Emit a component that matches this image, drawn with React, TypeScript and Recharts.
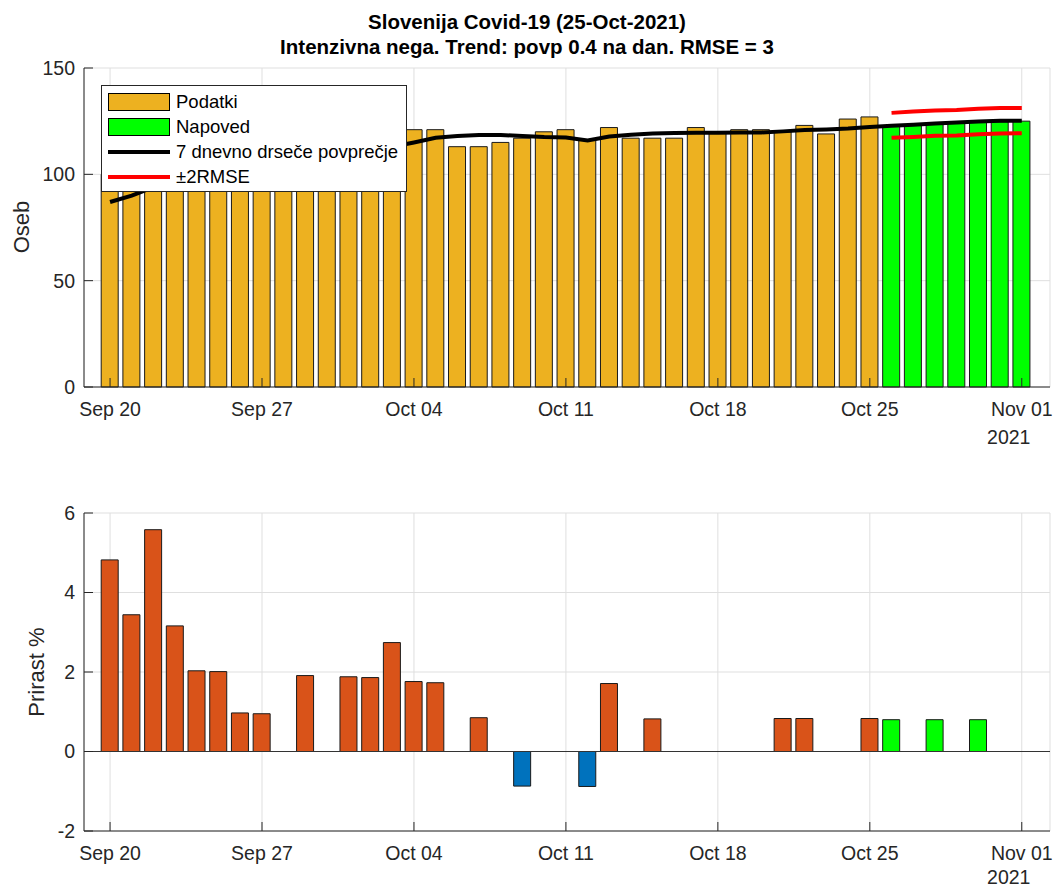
import React from 'react';
import {
    ComposedChart,
    Bar,
    Line,
    XAxis,
    YAxis,
    CartesianGrid,
    Cell,
    ReferenceLine,
} from 'recharts';

// dnevi od 20. sept. do 1. nov. 2021
const dates = [
    'Sep 20', 'Sep 21', 'Sep 22', 'Sep 23', 'Sep 24', 'Sep 25', 'Sep 26', 'Sep 27', 'Sep 28', 'Sep 29', 'Sep 30',
    'Oct 01', 'Oct 02', 'Oct 03', 'Oct 04', 'Oct 05', 'Oct 06', 'Oct 07', 'Oct 08', 'Oct 09', 'Oct 10',
    'Oct 11', 'Oct 12', 'Oct 13', 'Oct 14', 'Oct 15', 'Oct 16', 'Oct 17', 'Oct 18', 'Oct 19', 'Oct 20',
    'Oct 21', 'Oct 22', 'Oct 23', 'Oct 24', 'Oct 25', 'Oct 26', 'Oct 27', 'Oct 28', 'Oct 29', 'Oct 30',
    'Oct 31', 'Nov 01',
];

// Podatki (Sep 20 - Oct 25)
const podatki = [
    100, 101, 104, 103, 105, 104, 106, 108, 110, 112, 113, 115, 117, 118,
    121, 121, 113, 113, 115, 117, 120, 121, 116, 122, 117, 117, 117, 122,
    120, 121, 121, 120, 123, 119, 126, 127,
];

// Napoved (Oct 26 - Nov 01)
const napoved = [122.6, 123.1, 123.6, 124, 124.4, 124.7, 125];

// 7 dnevno drseče povprečje
const drsece = [
    87, 90, 94, 97.5, 100, 102, 103.3, 104.2, 104.8, 106, 106.8, 108.2, 110.3, 113,
    115, 117.2, 118, 118.5, 118.5, 118, 117.5, 117.3, 115.9, 117.8, 118.6, 119.2,
    119.4, 119.5, 119.6, 119.7, 119.7, 120.2, 120.9, 121.1, 121.5, 122.3,
    122.9, 123.3, 123.9, 124.4, 124.9, 125.2, 125.2,
];

// ±2RMSE (Oct 26 - Nov 01)
const rmseUpper = [128.9, 129.5, 130, 130.2, 130.8, 131.2, 131.2];
const rmseLower = [117.2, 117.6, 118.1, 118.3, 118.8, 119.2, 119.3];

// Prirast %
const prirast = [
    4.82, 3.44, 5.58, 3.16, 2.03, 2.01, 0.97, 0.95, 0, 1.91, 0,
    1.88, 1.86, 2.74, 1.76, 1.73, 0, 0.85, 0, -0.87, 0,
    0, -0.88, 1.71, 0, 0.82, 0, 0, 0, 0, 0,
    0.83, 0.83, 0, 0, 0.83, 0.8, 0, 0.8, 0, 0.8,
    0, 0,
];

const tickDays = [0, 7, 14, 21, 28, 35, 42];
const topTicks = [0, 50, 100, 150];
const bottomTicks = [-2, 0, 2, 4, 6];

const nData = podatki.length;

const chartData = dates.map((date, i) => ({
    i,
    date,
    value: i < nData ? podatki[i] : napoved[i - nData],
    ma: drsece[i],
    upper: i >= nData ? rmseUpper[i - nData] : null,
    lower: i >= nData ? rmseLower[i - nData] : null,
    prirast: prirast[i],
}));

const FONT = '"Liberation Sans", Arial, Helvetica, sans-serif';
const TEXT = '#262626';
const GRID = '#dfdfdf';

interface TickProps {
    x?: number;
    y?: number;
    payload?: { value: number };
    yearDy?: number;
}

const DateTick = ({ x = 0, y = 0, payload, yearDy = 57 }: TickProps) => {
    const idx = payload ? payload.value : 0;
    const last = idx === dates.length - 1;
    return (
        <g>
            <text x={x} y={y + 29} textAnchor="middle" fill={TEXT} fontSize={19.5} fontFamily={FONT}>
                {dates[idx]}
            </text>
            {last && (
                <text x={x - 13} y={y + yearDy} textAnchor="middle" fill={TEXT} fontSize={19.5} fontFamily={FONT}>
                    2021
                </text>
            )}
        </g>
    );
};

const xAxisProps = {
    dataKey: 'i',
    type: 'number' as const,
    domain: [-1.2, 43.3],
    allowDataOverflow: true,
    ticks: tickDays,
    interval: 0 as const,
    tickSize: -9,
    tickMargin: 9,
    stroke: TEXT,
};

const Legenda = () => (
    <div
        style={{
            position: 'absolute',
            left: 101,
            top: 85,
            width: 304,
            height: 105,
            background: '#fff',
            border: '1px solid #262626',
            fontFamily: FONT,
            fontSize: 18.5,
            color: '#000',
        }}
    >
        {[
            { label: 'Podatki', kind: 'box', color: '#EDB120' },
            { label: 'Napoved', kind: 'box', color: '#00FF00' },
            { label: '7 dnevno drseče povprečje', kind: 'line', color: '#000000' },
            { label: '±2RMSE', kind: 'line', color: '#FF0000' },
        ].map((item, k) => (
            <div
                key={item.label}
                style={{ position: 'absolute', left: 6, top: 4 + k * 25, height: 24, display: 'flex', alignItems: 'center' }}
            >
                {item.kind === 'box' ? (
                    <div style={{ width: 60, height: 16, background: item.color, border: '1px solid #000' }} />
                ) : (
                    <div style={{ width: 62, height: 4, background: item.color }} />
                )}
                <span style={{ marginLeft: 6 }}>{item.label}</span>
            </div>
        ))}
    </div>
);

export default function App() {
    return (
        <div style={{ position: 'absolute', left: 0, top: 0, width: 1058, height: 890, background: '#fff', fontFamily: FONT }}>
            <div
                style={{
                    position: 'absolute',
                    top: 9,
                    left: 0,
                    width: 1054,
                    textAlign: 'center',
                    fontWeight: 'bold',
                    fontSize: 20.5,
                    lineHeight: '25px',
                    color: '#000',
                }}
            >
                <div>Slovenija Covid-19 (25-Oct-2021)</div>
                <div>Intenzivna nega. Trend: povp 0.4 na dan. RMSE = 3</div>
            </div>

            <div style={{ position: 'absolute', top: 0, left: 0 }}>
                <ComposedChart width={1058} height={450} data={chartData} margin={{ top: 68, right: 8, bottom: 0, left: 0 }}>
                    <CartesianGrid stroke={GRID} strokeWidth={1} />
                    <XAxis {...xAxisProps} height={63} tick={<DateTick yearDy={57} />} />
                    <YAxis
                        domain={[0, 150]}
                        ticks={topTicks}
                        width={84}
                        stroke={TEXT}
                        tickSize={-9}
                        tickMargin={18}
                        tick={{ fill: TEXT, fontSize: 19.5, fontFamily: FONT }}
                    />
                    <Bar dataKey="value" barSize={17} stroke="#1a1a1a" strokeWidth={1} isAnimationActive={false}>
                        {chartData.map((d) => (
                            <Cell key={`c-${d.i}`} fill={d.i < nData ? '#EDB120' : '#00FF00'} />
                        ))}
                    </Bar>
                    <Line dataKey="ma" type="linear" stroke="#000" strokeWidth={4} dot={false} isAnimationActive={false} />
                    <Line dataKey="upper" type="linear" stroke="#FF0000" strokeWidth={4} dot={false} isAnimationActive={false} />
                    <Line dataKey="lower" type="linear" stroke="#FF0000" strokeWidth={4} dot={false} isAnimationActive={false} />
                </ComposedChart>
            </div>

            <Legenda />

            <div style={{ position: 'absolute', top: 450, left: 0 }}>
                <ComposedChart width={1058} height={440} data={chartData} margin={{ top: 63, right: 8, bottom: 0, left: 0 }}>
                    <CartesianGrid stroke={GRID} strokeWidth={1} />
                    <XAxis {...xAxisProps} height={59} tick={<DateTick yearDy={53} />} />
                    <YAxis
                        domain={[-2, 6]}
                        ticks={bottomTicks}
                        width={84}
                        stroke={TEXT}
                        tickSize={-9}
                        tickMargin={18}
                        tick={{ fill: TEXT, fontSize: 19.5, fontFamily: FONT }}
                    />
                    <ReferenceLine y={0} stroke="#333" strokeWidth={1} />
                    <Bar dataKey="prirast" barSize={17} stroke="#1a1a1a" strokeWidth={1} isAnimationActive={false}>
                        {chartData.map((d) => (
                            <Cell
                                key={`p-${d.i}`}
                                fill={d.i >= nData ? '#00FF00' : d.prirast < 0 ? '#0072BD' : '#D95319'}
                            />
                        ))}
                    </Bar>
                </ComposedChart>
            </div>

            <div
                style={{
                    position: 'absolute',
                    left: 22,
                    top: 227,
                    transform: 'translate(-50%, -50%) rotate(-90deg)',
                    fontSize: 22,
                    color: TEXT,
                    whiteSpace: 'nowrap',
                }}
            >
                Oseb
            </div>
            <div
                style={{
                    position: 'absolute',
                    left: 37,
                    top: 672,
                    transform: 'translate(-50%, -50%) rotate(-90deg)',
                    fontSize: 22,
                    color: TEXT,
                    whiteSpace: 'nowrap',
                }}
            >
                Prirast %
            </div>
        </div>
    );
}
